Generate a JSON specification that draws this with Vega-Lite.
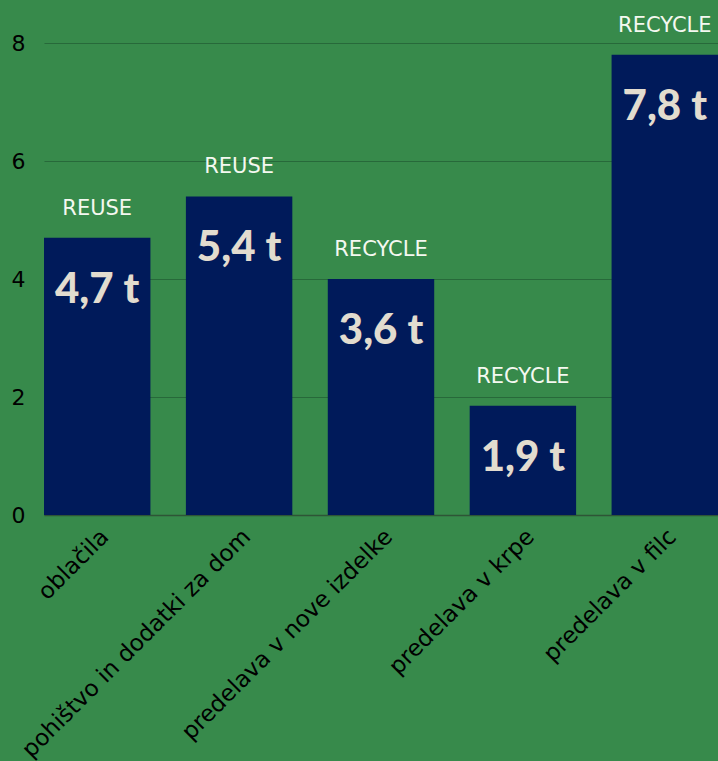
{
  "$schema": "https://vega.github.io/schema/vega-lite/v6.json",
  "width": 674,
  "height": 472,
  "autosize": {"type": "none"},
  "padding": {"left": 44, "top": 43, "right": 0, "bottom": 246},
  "background": "#378a4b",
  "config": {
    "view": {"stroke": null},
    "font": "DejaVu Sans"
  },
  "data": {
    "values": [
      {"category": "oblačila", "value": 4.7, "label": "4,7 t", "type": "REUSE"},
      {"category": "pohištvo in dodatki za dom", "value": 5.4, "label": "5,4 t", "type": "REUSE"},
      {"category": "predelava v nove izdelke", "value": 4.0, "label": "3,6 t", "type": "RECYCLE"},
      {"category": "predelava v krpe", "value": 1.85, "label": "1,9 t", "type": "RECYCLE"},
      {"category": "predelava v filc", "value": 7.8, "label": "7,8 t", "type": "RECYCLE"}
    ]
  },
  "encoding": {
    "x": {
      "field": "category",
      "type": "nominal",
      "sort": null,
      "scale": {"paddingInner": 0.25, "paddingOuter": 0},
      "axis": {
        "title": null,
        "labelAngle": -45,
        "labelFontSize": 23,
        "labelColor": "#000000",
        "labelFont": "DejaVu Sans",
        "labelPadding": 10,
        "ticks": false,
        "domainColor": "#2e5536",
        "domainWidth": 1.5,
        "labelLimit": 400
      }
    },
    "y": {
      "field": "value",
      "type": "quantitative",
      "scale": {"domain": [0, 8], "nice": false},
      "axis": {
        "title": null,
        "values": [0, 2, 4, 6, 8],
        "labelOverlap": false,
        "domain": false,
        "ticks": false,
        "labelFont": "DejaVu Sans",
        "labelFontSize": 22,
        "labelColor": "#000000",
        "labelPadding": 19,
        "gridColor": "#27693a",
        "gridWidth": 1
      }
    }
  },
  "layer": [
    {"mark": {"type": "bar", "color": "#001a5a"}},
    {
      "mark": {"type": "text", "baseline": "middle", "dy": 52, "fontSize": 42, "fontWeight": 900, "color": "#e2dccf", "font": "Lato"},
      "encoding": {"text": {"field": "label"}}
    },
    {
      "mark": {"type": "text", "baseline": "middle", "dy": -29, "fontSize": 21, "color": "#f4f8f0", "font": "DejaVu Sans"},
      "encoding": {"text": {"field": "type"}}
    }
  ]
}
